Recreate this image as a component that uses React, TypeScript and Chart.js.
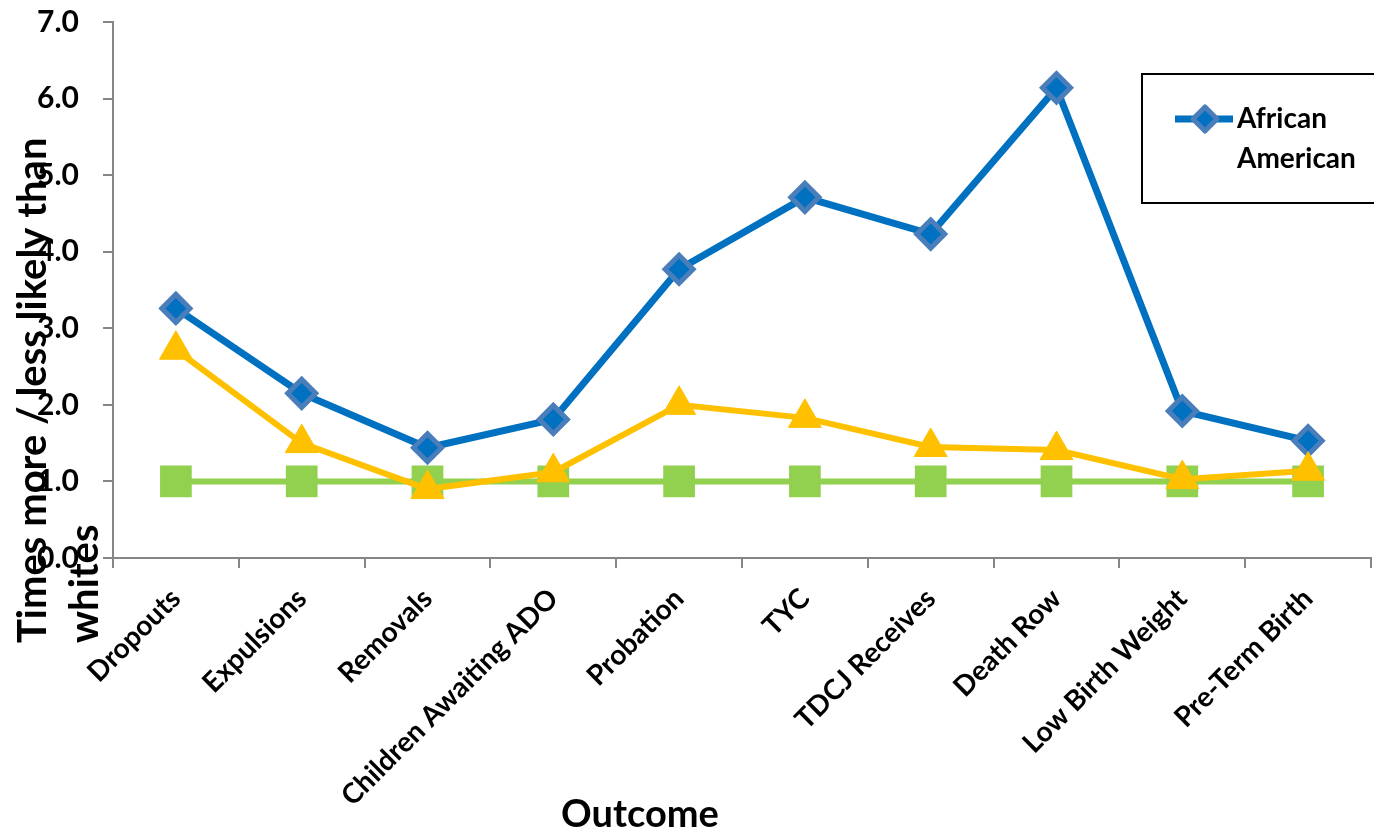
import React, { useEffect, useRef } from 'react';
import { Chart, registerables } from 'chart.js';

Chart.register(...registerables);

const categories = [
  'Dropouts',
  'Expulsions',
  'Removals',
  'Children Awaiting ADO',
  'Probation',
  'TYC',
  'TDCJ Receives',
  'Death Row',
  'Low Birth Weight',
  'Pre-Term Birth',
];
const africanAmerican = [3.26, 2.15, 1.44, 1.81, 3.77, 4.71, 4.23, 6.14, 1.92, 1.53];
const hispanic = [2.72, 1.5, 0.9, 1.12, 2.0, 1.83, 1.45, 1.41, 1.03, 1.14];
const white = [1, 1, 1, 1, 1, 1, 1, 1, 1, 1];

const yMin = 0;
const yMax = 7;
const yStep = 1;

const yTitleLines = ['Times more / less likely than', 'whites'];
const xTitle = 'Outcome';
const legendLabel = ['African', 'American'];

const FONT = 'Lato, "Open Sans", sans-serif';

const textPlugin = {
  id: 'customText',
  afterDraw(chart: any) {
    const ctx = chart.ctx as CanvasRenderingContext2D;
    ctx.save();
    ctx.fillStyle = '#000';
    ctx.font = `bold 40px ${FONT}`;
    ctx.textAlign = 'left';
    ctx.textBaseline = 'alphabetic';
    const baseX = [46, 98];
    yTitleLines.forEach((line, i) => {
      ctx.save();
      ctx.translate(baseX[i], 643);
      ctx.rotate(-Math.PI / 2);
      ctx.fillText(line, 0, 0);
      ctx.restore();
    });
    ctx.font = `bold 38px ${FONT}`;
    ctx.textAlign = 'center';
    ctx.fillText(xTitle, 640, 827);

    // legend box
    ctx.lineWidth = 2;
    ctx.strokeStyle = '#000';
    ctx.strokeRect(1142, 74, 260, 129);
    ctx.strokeStyle = '#0070C0';
    ctx.lineWidth = 7;
    ctx.beginPath();
    ctx.moveTo(1175, 119);
    ctx.lineTo(1233, 119);
    ctx.stroke();
    ctx.beginPath();
    const cx = 1205, cy = 119, r = 12;
    ctx.moveTo(cx, cy - r);
    ctx.lineTo(cx + r, cy);
    ctx.lineTo(cx, cy + r);
    ctx.lineTo(cx - r, cy);
    ctx.closePath();
    ctx.fillStyle = '#0070C0';
    ctx.fill();
    ctx.lineWidth = 5;
    ctx.strokeStyle = '#4A7EBB';
    ctx.lineJoin = 'round';
    ctx.stroke();
    ctx.fillStyle = '#000';
    ctx.font = `bold 28px ${FONT}`;
    ctx.textAlign = 'left';
    ctx.fillText(legendLabel[0], 1237, 128);
    ctx.fillText(legendLabel[1], 1237, 168);
    ctx.restore();
  },
};

export default function App() {
  const ref = useRef<HTMLCanvasElement>(null);
  useEffect(() => {
    if (!ref.current) return;
    const chart = new Chart(ref.current, {
      type: 'line',
      data: {
        labels: categories,
        datasets: [
          {
            label: 'African American',
            data: africanAmerican,
            borderColor: '#0070C0',
            borderWidth: 7,
            pointStyle: 'rectRot',
            pointRadius: 14,
            pointBorderWidth: 5,
            pointBorderColor: '#4A7EBB',
            pointBackgroundColor: '#0070C0',
            tension: 0,
            order: 1,
          },
          {
            label: 'Hispanic',
            data: hispanic,
            borderColor: '#FFC000',
            borderWidth: 6,
            pointStyle: 'triangle',
            pointRadius: 19,
            pointBorderWidth: 1,
            pointBorderColor: '#FFC000',
            pointBackgroundColor: '#FFC000',
            tension: 0,
            order: 0,
          },
          {
            label: 'White',
            data: white,
            borderColor: '#92D050',
            borderWidth: 6,
            pointStyle: 'rect',
            pointRadius: 21,
            pointBorderWidth: 2,
            pointBorderColor: '#92D050',
            pointBackgroundColor: '#92D050',
            tension: 0,
            order: 2,
          },
        ],
      },
      options: {
        responsive: false,
        animation: false,
        layout: { autoPadding: false, padding: { top: 22, right: 3, left: 0, bottom: 0 } },
        plugins: {
          legend: { display: false },
          tooltip: { enabled: false },
          title: { display: false },
        },
        scales: {
          x: {
            offset: true,
            grid: {
              offset: true,
              drawOnChartArea: false,
              drawTicks: true,
              tickLength: 10,
              color: '#868686',
              lineWidth: 2,
            },
            border: { display: true, color: '#868686', width: 2 },
            ticks: {
              autoSkip: false,
              minRotation: 45,
              maxRotation: 45,
              color: '#000',
              padding: 14,
              font: { family: FONT, size: 28, weight: 'bold' },
            },
            afterFit(scale: any) {
              scale.height = 277;
              scale.paddingLeft = 0;
              scale.paddingRight = 0;
            },
          },
          y: {
            min: yMin,
            max: yMax,
            ticks: {
              stepSize: yStep,
              color: '#000',
              padding: 24,
              font: { family: FONT, size: 30, weight: 'bold' },
              callback: (v: any) => Number(v).toFixed(1),
            },
            grid: {
              drawOnChartArea: false,
              drawTicks: true,
              tickLength: 10,
              color: '#868686',
              lineWidth: 2,
            },
            border: { display: true, color: '#868686', width: 2 },
            afterFit(scale: any) {
              scale.width = 113;
              scale.paddingTop = 0;
              scale.paddingBottom = 0;
            },
          },
        },
      },
      plugins: [textPlugin],
    });
    return () => chart.destroy();
  }, []);
  return (
    <div style={{ position: 'fixed', left: 0, top: 0, width: 1374, height: 835, background: '#fff' }}>
      <canvas ref={ref} width={1374} height={835} style={{ display: 'block' }} />
    </div>
  );
}
